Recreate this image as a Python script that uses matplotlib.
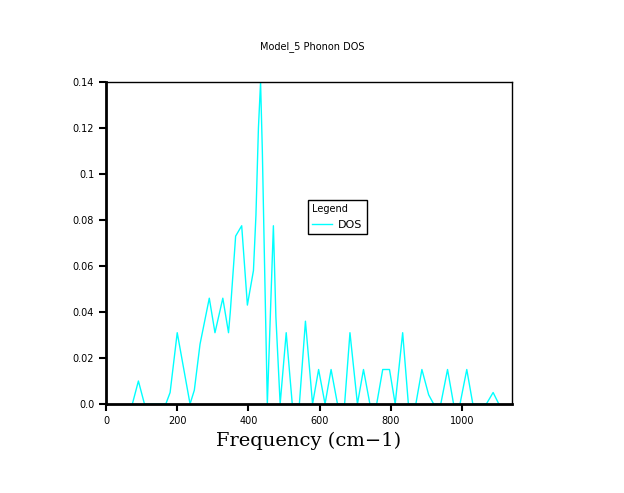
import matplotlib
matplotlib.use("Agg")
import matplotlib.pyplot as plt

# Data
freq = [74, 91, 108, 168, 180, 200, 236, 248, 264, 290, 306, 328, 344, 349, 364, 381,
        397, 414, 421, 428, 434, 439, 444, 453, 470, 477, 489, 506, 523, 543, 560, 580,
        597, 615, 632, 650, 670, 685, 706, 723, 741, 760, 777, 796, 812, 833, 849, 870,
        887, 906, 920, 940, 959, 976, 994, 1013, 1030, 1068, 1087, 1103]
dos = [0, 0.010, 0, 0, 0.005, 0.031, 0, 0.006, 0.026, 0.046, 0.031, 0.046, 0.031, 0.040, 0.073, 0.0775,
       0.043, 0.058, 0.082, 0.120, 0.140, 0.110, 0.070, 0, 0.0775, 0.038, 0, 0.031, 0, 0, 0.036, 0,
       0.015, 0, 0.015, 0, 0, 0.031, 0, 0.015, 0, 0, 0.015, 0.015, 0, 0.031, 0, 0,
       0.015, 0.004, 0, 0, 0.015, 0, 0, 0.015, 0, 0, 0.005, 0]
yticks = [0, 0.02, 0.04, 0.06, 0.08, 0.1, 0.12, 0.14]
ylabels = ['0.0', '0.02', '0.04', '0.06', '0.08', '0.1', '0.12', '0.14']
xticks = [0, 200, 400, 600, 800, 1000]

fig = plt.figure(figsize=(6.24, 4.93), dpi=100)
ax = fig.add_axes([106/624, 89/493, 406/624, 322/493])
ax.plot(freq, dos, color='cyan', linewidth=1, label='DOS')
ax.set_xlim(0, 1140)
ax.set_ylim(0, 0.14)
ax.set_xticks(xticks)
ax.set_yticks(yticks)
ax.set_yticklabels(ylabels)
ax.tick_params(labelsize=7, width=1.5, length=5)
for s in ax.spines.values():
    s.set_linewidth(1)
ax.spines['left'].set_linewidth(2)
ax.spines['bottom'].set_linewidth(2)
ax.set_xlabel('Frequency (cm\u22121)', family='DejaVu Serif', fontsize=14)
fig.text(0.5, 0.9, 'Model_5 Phonon DOS', ha='center', fontsize=7)
leg = ax.legend(loc='upper left', bbox_to_anchor=(0.4975, 0.634), borderaxespad=0,
                title='Legend', fontsize=8, title_fontsize=7, fancybox=False,
                edgecolor='black', framealpha=1, handlelength=1.8, borderpad=0.4,
                handletextpad=0.5)
leg._legend_box.align = 'left'
fig.savefig('out.png', dpi=100)
